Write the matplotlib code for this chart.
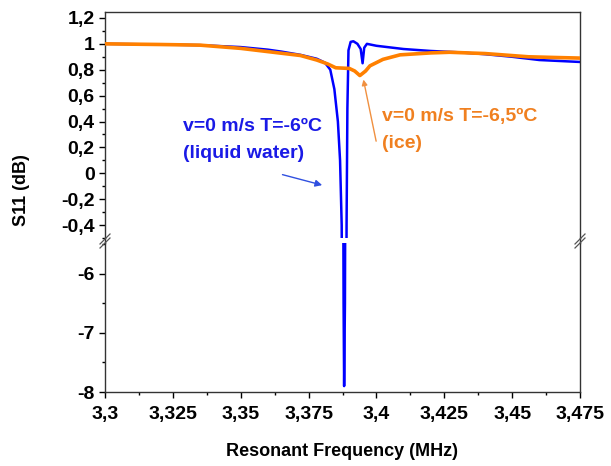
import matplotlib
matplotlib.use("Agg")
import matplotlib.pyplot as plt
from matplotlib.lines import Line2D
from matplotlib.ticker import MultipleLocator, FuncFormatter

plt.rcParams['font.family'] = ['Liberation Sans', 'DejaVu Sans']
plt.rcParams['font.weight'] = 'bold'

# datos
freq_agua = [3.300, 3.320, 3.335, 3.350, 3.360, 3.365, 3.372, 3.378, 3.381, 3.383,
             3.3845, 3.3858, 3.3866, 3.3872, 3.3876, 3.3879, 3.3881, 3.3884, 3.3887,
             3.3890, 3.3893, 3.3897, 3.3905, 3.3915, 3.3930, 3.3942, 3.3949, 3.3955,
             3.3965, 3.400, 3.410, 3.420, 3.430, 3.440, 3.450, 3.460, 3.465, 3.470, 3.475]
s11_agua = [1.00, 0.995, 0.99, 0.975, 0.955, 0.94, 0.915, 0.885, 0.855, 0.80,
            0.65, 0.40, 0.10, -0.40, -2.0, -6.5, -7.9, -6.5, -2.0,
            -0.40, 0.50, 0.95, 1.015, 1.02, 1.00, 0.96, 0.85, 0.97,
            1.00, 0.985, 0.96, 0.945, 0.935, 0.92, 0.90, 0.875, 0.87, 0.865, 0.86]

freq_hielo = [3.300, 3.320, 3.335, 3.350, 3.360, 3.372, 3.378, 3.382, 3.385, 3.390,
              3.392, 3.3939, 3.396, 3.3976, 3.4024, 3.4087, 3.420, 3.427, 3.440,
              3.456, 3.465, 3.475]
s11_hielo = [1.00, 0.995, 0.99, 0.965, 0.94, 0.91, 0.875, 0.845, 0.815, 0.81,
             0.79, 0.755, 0.79, 0.83, 0.88, 0.915, 0.93, 0.935, 0.925,
             0.90, 0.895, 0.89]

xticks = [3.3, 3.325, 3.35, 3.375, 3.4, 3.425, 3.45, 3.475]
yticks_arriba = [-0.4, -0.2, 0, 0.2, 0.4, 0.6, 0.8, 1, 1.2]
yticks_abajo = [-8, -7, -6]

azul = '#0000FF'
naranja = '#FF8000'
W, H = 611, 466

def coma(v, pos=None):
    return ('%g' % round(v, 4)).replace('.', ',')

fig = plt.figure(figsize=(W / 100, H / 100), dpi=100)
izq, der = 105 / W, 580 / W
ax1 = fig.add_axes([izq, 1 - 238 / H, der - izq, (238 - 12) / H])
ax2 = fig.add_axes([izq, 1 - 392 / H, der - izq, (392 - 243) / H])

for ax in (ax1, ax2):
    ax.plot(freq_agua, s11_agua, color=azul, lw=1.8, zorder=2)
    ax.plot(freq_hielo, s11_hielo, color=naranja, lw=2.6, zorder=3)
    ax.set_xlim(3.3, 3.475)
    ax.tick_params(axis='both', direction='out', labelsize=14, length=4, width=1,
                   right=False, top=False)
    ax.tick_params(which='minor', direction='out', length=2.5, width=1)
    for s in ax.spines.values():
        s.set_color('#333333')
        s.set_linewidth(1)
    ax.yaxis.set_major_formatter(FuncFormatter(coma))

ax1.set_ylim(-0.5, 1.246)
ax1.set_yticks(yticks_arriba)
ax1.yaxis.set_minor_locator(MultipleLocator(0.1))
ax1.spines['bottom'].set_visible(False)
ax1.tick_params(axis='x', which='both', bottom=False, labelbottom=False)

ax2.set_ylim(-8.0, -5.475)
ax2.set_yticks(yticks_abajo)
ax2.yaxis.set_minor_locator(MultipleLocator(0.5))
ax2.spines['top'].set_visible(False)
ax2.set_xticks(xticks)
ax2.xaxis.set_minor_locator(MultipleLocator(0.0125))
ax2.xaxis.set_major_formatter(FuncFormatter(coma))
ax2.tick_params(axis='x', pad=6)

# espacio del corte: continuar los ejes y marcar con //
for xp in (105, 580):
    fig.add_artist(Line2D([xp / W, xp / W], [1 - 238 / H, 1 - 243 / H],
                          color='#333333', lw=1, transform=fig.transFigure))
    for dy in (-2, 2):
        fig.add_artist(Line2D([(xp - 5) / W, (xp + 5) / W],
                              [1 - (246 + dy) / H, 1 - (236 + dy) / H],
                              color='#555555', lw=0.9, transform=fig.transFigure))

fig.text(22 / W, 1 - 190 / H, 'S11 (dB)', rotation=90, ha='center', va='center',
         fontsize=13, fontweight='bold')
fig.text(342 / W, 1 - 452 / H, 'Resonant Frequency (MHz)', ha='center', va='center',
         fontsize=13, fontweight='bold')

# anotaciones
ax1.text(3.3287, 0.359, 'v=0 m/s T=-6ºC', color='#1A1AE6', fontsize=14,
         fontweight='bold', va='center', ha='left')
ax1.text(3.3287, 0.15, '(liquid water)', color='#1A1AE6', fontsize=14,
         fontweight='bold', va='center', ha='left')
ax1.annotate('', xy=(3.381, -0.097), xytext=(3.3644, -0.005),
             arrowprops=dict(arrowstyle='-|>', color='#3050E0', lw=1,
                             mutation_scale=10))
ax1.text(3.402, 0.436, 'v=0 m/s T=-6,5ºC', color='#F08020', fontsize=14,
         fontweight='bold', va='center', ha='left')
ax1.text(3.402, 0.227, '(ice)', color='#F08020', fontsize=14,
         fontweight='bold', va='center', ha='left')
ax1.annotate('', xy=(3.395, 0.745), xytext=(3.4001, 0.227),
             arrowprops=dict(arrowstyle='-|>', color='#F09040', lw=1,
                             mutation_scale=8))

fig.savefig('out.png', dpi=100)
